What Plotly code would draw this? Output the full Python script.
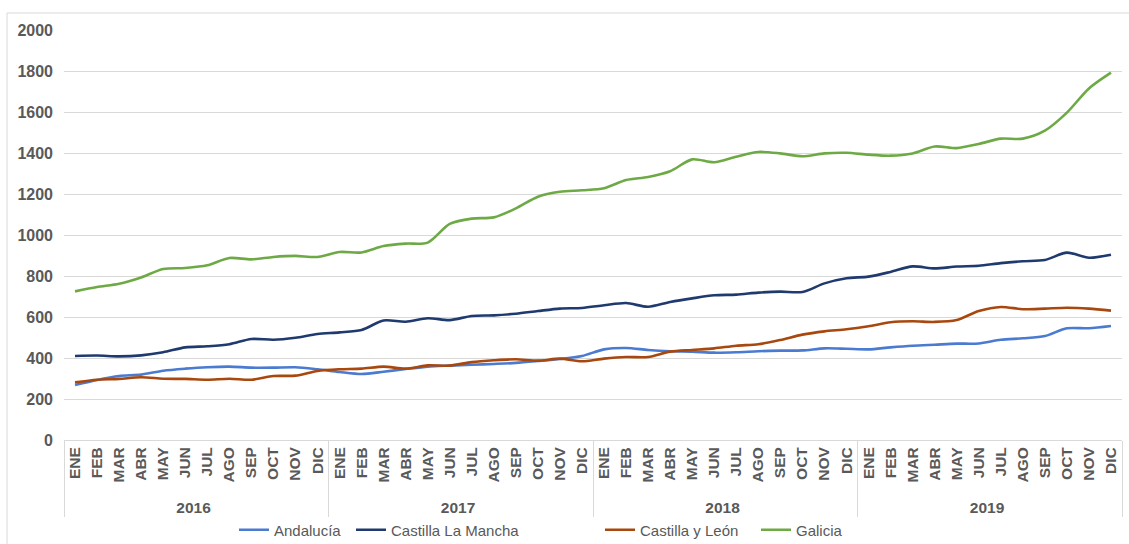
import plotly.graph_objects as go

years = ["2016", "2017", "2018", "2019"]
months = ["ENE", "FEB", "MAR", "ABR", "MAY", "JUN", "JUL", "AGO", "SEP", "OCT", "NOV", "DIC"]

andalucia = [268, 293, 312, 319, 338, 348, 355, 358, 353, 353, 355, 345,
             332, 322, 333, 346, 358, 363, 367, 371, 376, 385, 395, 410,
             442, 449, 439, 433, 431, 426, 428, 433, 436, 437, 447, 445,
             442, 452, 460, 465, 470, 471, 489, 496, 507, 545, 545, 556]
castilla_la_mancha = [410, 412, 408, 413, 428, 452, 457, 467, 493, 489, 499, 517,
                      525, 537, 583, 577, 594, 585, 605, 608, 616, 629, 641, 644,
                      657, 668, 650, 673, 691, 706, 709, 719, 724, 722, 764, 789,
                      797, 820, 847, 837, 846, 850, 863, 872, 878, 914, 889, 904]
castilla_leon = [281, 294, 298, 306, 299, 298, 294, 299, 294, 312, 314, 337,
                 345, 348, 358, 348, 364, 363, 380, 389, 394, 387, 397, 384,
                 397, 405, 405, 431, 439, 447, 460, 467, 488, 514, 530, 540,
                 555, 574, 579, 576, 585, 629, 649, 638, 641, 645, 641, 631]
galicia = [725, 746, 762, 793, 834, 839, 852, 888, 881, 893, 898, 893,
           917, 915, 946, 958, 963, 1054, 1080, 1086, 1130, 1187, 1211, 1218,
           1228, 1268, 1283, 1311, 1369, 1355, 1382, 1405, 1398, 1384, 1398, 1401,
           1392, 1387, 1398, 1432, 1424, 1444, 1470, 1470, 1509, 1597, 1715, 1792]

series = [
    ("Andalucía", andalucia, "#4a7bd0"),
    ("Castilla La Mancha", castilla_la_mancha, "#1f3a6e"),
    ("Castilla y León", castilla_leon, "#a8480f"),
    ("Galicia", galicia, "#6daa45"),
]

x_outer = [y for y in years for _ in months]
x_inner = [m for _ in years for m in months]

FONT = "Liberation Sans, Arial, sans-serif"
font_color = "#595959"

PLOT_L, PLOT_R, PLOT_T, PLOT_B = 64, 1122, 30, 440
PW = PLOT_R - PLOT_L
PH = PLOT_B - PLOT_T

# left edge (px) of each legend entry text, minus symbol width
legend_text_x = [274, 391, 640, 796]
legend_names = ["legend", "legend2", "legend3", "legend4"]

fig = go.Figure()
for (name, vals, color), lg in zip(series, legend_names):
    fig.add_trace(go.Scatter(
        x=[x_outer, x_inner], y=vals, name=name, mode="lines", legend=lg,
        line=dict(color=color, width=2.6, shape="spline", smoothing=0.8),
    ))

legend_y = -(530 - PLOT_B) / PH
legends = {}
for lg, tx in zip(legend_names, legend_text_x):
    legends[lg] = dict(orientation="h", x=(tx - 40 - PLOT_L) / PW, xanchor="left",
                       y=legend_y, yanchor="middle",
                       font=dict(size=15, color=font_color, family=FONT),
                       itemwidth=30, bgcolor="rgba(0,0,0,0)")

fig.update_layout(
    width=1129, height=544,
    margin=dict(l=PLOT_L, r=1129 - PLOT_R, t=PLOT_T, b=544 - PLOT_B, autoexpand=False),
    paper_bgcolor="white", plot_bgcolor="white",
    font=dict(family=FONT, color=font_color, size=14),
    showlegend=True,
    xaxis=dict(
        type="multicategory", tickangle=-90, range=[-0.5, 47.5], automargin=False,
        tickfont=dict(size=15.5, color=font_color, family=FONT, weight="bold"),
        showline=True, linecolor="#d9d9d9", linewidth=1, mirror=False,
        showdividers=True, dividercolor="#d9d9d9", dividerwidth=1,
        showgrid=False, ticks="",
    ),
    yaxis=dict(
        range=[0, 2000], dtick=200, showgrid=True, gridcolor="#d9d9d9", gridwidth=1,
        zeroline=False, showline=False, ticks="", automargin=False,
        tickfont=dict(size=16, color=font_color, family=FONT, weight="bold"),
        ticklabelstandoff=10,
    ),
    **legends,
)

fig.add_shape(type="rect", xref="paper", yref="paper",
              x0=(7 - PLOT_L) / PW, x1=1.05, y0=-0.4, y1=1 + (PLOT_T - 13) / PH,
              line=dict(color="#d9d9d9", width=1), fillcolor="rgba(0,0,0,0)", layer="below")

fig.write_html("out.html", config={"displayModeBar": False},
               post_script="document.body.style.margin='0';document.body.style.overflow='hidden';")
